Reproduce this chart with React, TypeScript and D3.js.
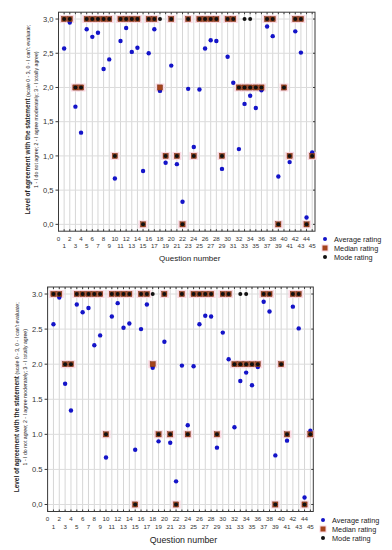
import * as d3 from 'd3';
import React, { useEffect, useRef } from 'react';

// Question numbers 1..45
const questions = d3.range(1, 46);

const averageRating = [
    2.57, 2.95, 1.72, 1.34, 2.85, 2.74, 2.8, 2.27, 2.41, 0.67, 2.68, 2.87, 2.52,
    2.58, 0.78, 2.5, 2.85, 1.95, 0.9, 2.32, 0.88, 0.33, 1.98, 1.13, 1.97, 2.57,
    2.69, 2.68, 0.81, 2.45, 2.07, 1.1, 1.76, 1.88, 1.7, 1.96, 2.89, 2.75, 0.7,
    2.0, 0.91, 2.82, 2.51, 0.1, 1.05,
];

const medianRating = [
    3, 3, 2, 2, 3, 3, 3, 3, 3, 1, 3, 3, 3, 3, 0, 3, 3, 2, 1, 3, 1, 0, 3, 1, 3, 3,
    3, 3, 1, 3, 3, 2, 2, 2, 2, 2, 3, 3, 0, 2, 1, 3, 3, 0, 1,
];

// some questions have two modes
const modeRating: number[][] = [
    [3], [3], [2], [2], [3], [3], [3], [3], [3], [1], [3], [3], [3], [3], [0],
    [3], [3], [3], [1], [3], [1], [0], [3], [1], [3], [3], [3], [3], [1], [3],
    [3], [2], [2, 3], [2, 3], [2], [2], [3], [3], [0], [2], [1], [3], [3], [0],
    [1],
];

const yTicks = [0, 0.5, 1, 1.5, 2, 2.5, 3];
const legendLabels = ['Average rating', 'Median rating', 'Mode rating'];

interface PanelCfg {
    left: number;
    right: number;
    top: number;
    bottom: number;
    sep: string[]; // decimal separator per y tick
    legendX: number;
    legendY: number;
    tickRow1: number;
    tickRow2: number;
    titleY: number;
    xTitleSize: number;
}

const FONT = "'Liberation Sans', Arial, sans-serif";

function drawPanel(svg: d3.Selection<SVGSVGElement, unknown, null, undefined>, c: PanelCfg) {
    const x = d3.scaleLinear().domain([0, 45.5]).range([c.left, c.right]);
    const y = d3.scaleLinear().domain([-0.1, 3.1]).range([c.bottom, c.top]);
    const g = svg.append('g');

    // grid
    g.selectAll('.vgrid')
        .data(d3.range(1, 46))
        .join('line')
        .attr('x1', (d) => x(d))
        .attr('x2', (d) => x(d))
        .attr('y1', c.top)
        .attr('y2', c.bottom)
        .attr('stroke', '#d6d6d6')
        .attr('stroke-width', 1);
    g.selectAll('.hgrid')
        .data(yTicks)
        .join('line')
        .attr('x1', c.left)
        .attr('x2', c.right)
        .attr('y1', (d) => y(d))
        .attr('y2', (d) => y(d))
        .attr('stroke', '#dcdcdc')
        .attr('stroke-width', 1);

    // frame
    g.append('rect')
        .attr('x', c.left)
        .attr('y', c.top)
        .attr('width', c.right - c.left)
        .attr('height', c.bottom - c.top)
        .attr('fill', 'none')
        .attr('stroke', '#3a3a3a')
        .attr('stroke-width', 1);

    // small ticks
    d3.range(0, 46).forEach((d) => {
        g.append('line')
            .attr('x1', x(d)).attr('x2', x(d))
            .attr('y1', c.bottom).attr('y2', c.bottom - 2)
            .attr('stroke', '#3a3a3a');
        g.append('line')
            .attr('x1', x(d)).attr('x2', x(d))
            .attr('y1', c.top).attr('y2', c.top + 2)
            .attr('stroke', '#3a3a3a');
    });
    yTicks.forEach((d) => {
        g.append('line')
            .attr('x1', c.left - 3).attr('x2', c.left)
            .attr('y1', y(d)).attr('y2', y(d))
            .attr('stroke', '#3a3a3a');
        g.append('line')
            .attr('x1', c.right - 2).attr('x2', c.right)
            .attr('y1', y(d)).attr('y2', y(d))
            .attr('stroke', '#3a3a3a');
    });

    // y tick labels
    g.selectAll('.ylab')
        .data(yTicks)
        .join('text')
        .attr('x', c.left - 5)
        .attr('y', (d) => y(d) + 2.7)
        .attr('text-anchor', 'end')
        .style('font-size', '7.6px')
        .attr('fill', '#333')
        .text((d, i) => d.toFixed(1).replace('.', c.sep[i]));

    // x tick labels, two rows
    d3.range(0, 46).forEach((d) => {
        g.append('text')
            .attr('x', x(d))
            .attr('y', d % 2 === 0 ? c.tickRow1 : c.tickRow2)
            .attr('text-anchor', 'middle')
            .style('font-size', '6.2px')
            .attr('fill', '#333')
            .text(String(d));
    });

    g.append('text')
        .attr('x', (c.left + c.right) / 2 + 3)
        .attr('y', c.titleY)
        .attr('text-anchor', 'middle')
        .style('font-size', `${c.xTitleSize}px`)
        .attr('fill', '#222')
        .text('Question number');

    // y title (two lines, rotated)
    const cy = (c.top + c.bottom) / 2 - 2;
    const t1 = g.append('text')
        .attr('transform', `translate(${c.left - 29}, ${cy}) rotate(-90)`)
        .attr('text-anchor', 'middle')
        .attr('fill', '#222');
    t1.append('tspan').style('font-size', '6.4px').style('font-weight', 'bold')
        .text('Level of agreement with the statement');
    t1.append('tspan').style('font-size', '5.2px')
        .text(" (scale 0 - 3, 0 - I can't evaluate;");
    g.append('text')
        .attr('transform', `translate(${c.left - 21}, ${cy}) rotate(-90)`)
        .attr('text-anchor', 'middle')
        .style('font-size', '5.2px')
        .attr('fill', '#222')
        .text('1 - I do not agree;  2 - I agree moderately;  3 - I totally agree)');

    // halos behind medians
    g.selectAll('.halo')
        .data(questions)
        .join('rect')
        .attr('x', (d) => x(d) - 4.5)
        .attr('y', (d, i) => y(medianRating[i]) - 4)
        .attr('width', 9)
        .attr('height', 8)
        .attr('fill', '#fbd6e0')
        .attr('opacity', 0.9);

    // average
    g.selectAll('.avg')
        .data(questions)
        .join('circle')
        .attr('cx', (d) => x(d))
        .attr('cy', (d, i) => y(averageRating[i]))
        .attr('r', 2.2)
        .attr('fill', '#1414c8');

    // median
    g.selectAll('.med')
        .data(questions)
        .join('rect')
        .attr('x', (d) => x(d) - 2.6)
        .attr('y', (d, i) => y(medianRating[i]) - 2.6)
        .attr('width', 5.2)
        .attr('height', 5.2)
        .attr('fill', '#a4441c')
        .attr('stroke', '#6a2a10')
        .attr('stroke-width', 0.4);

    // mode
    questions.forEach((q, i) => {
        modeRating[i].forEach((m) => {
            g.append('circle')
                .attr('cx', x(q))
                .attr('cy', y(m))
                .attr('r', 2)
                .attr('fill', '#111');
        });
    });

    // legend
    const lg = g.append('g').attr('transform', `translate(${c.legendX}, ${c.legendY})`);
    legendLabels.forEach((label, i) => {
        const row = lg.append('g').attr('transform', `translate(0, ${i * 9})`);
        if (i === 0) {
            row.append('circle').attr('r', 2).attr('fill', '#1414c8');
        } else if (i === 1) {
            row.append('rect').attr('x', -3.5).attr('y', -3.5).attr('width', 7).attr('height', 7).attr('fill', '#fbd6e0');
            row.append('rect').attr('x', -2.5).attr('y', -2.5).attr('width', 5).attr('height', 5).attr('fill', '#a4441c');
        } else {
            row.append('circle').attr('r', 2).attr('fill', '#111');
        }
        row.append('text')
            .attr('x', 9)
            .attr('y', 2.6)
            .style('font-size', '7.3px')
            .attr('fill', '#222')
            .text(label);
    });
}

export default function App() {
    const ref = useRef<SVGSVGElement | null>(null);

    useEffect(() => {
        const svg = d3.select(ref.current!);
        svg.selectAll('*').remove();

        drawPanel(svg, {
            left: 58.5,
            right: 315,
            top: 12.2,
            bottom: 231.2,
            sep: [',', ',', ',', ',', ',', ',', ','],
            legendX: 325,
            legendY: 239,
            tickRow1: 240.5,
            tickRow2: 247.5,
            titleY: 261,
            xTitleSize: 8,
        });

        drawPanel(svg, {
            left: 47.6,
            right: 313.3,
            top: 287,
            bottom: 511.5,
            sep: [',', '.', '.', '.', '.', '.', '.'],
            legendX: 323,
            legendY: 520,
            tickRow1: 521.3,
            tickRow2: 529,
            titleY: 542.5,
            xTitleSize: 8.8,
        });
    }, []);

    return (
        <svg
            ref={ref}
            width={392}
            height={550}
            style={{ position: 'absolute', left: 0, top: 0, fontFamily: FONT, background: '#fff' }}
        ></svg>
    );
}
